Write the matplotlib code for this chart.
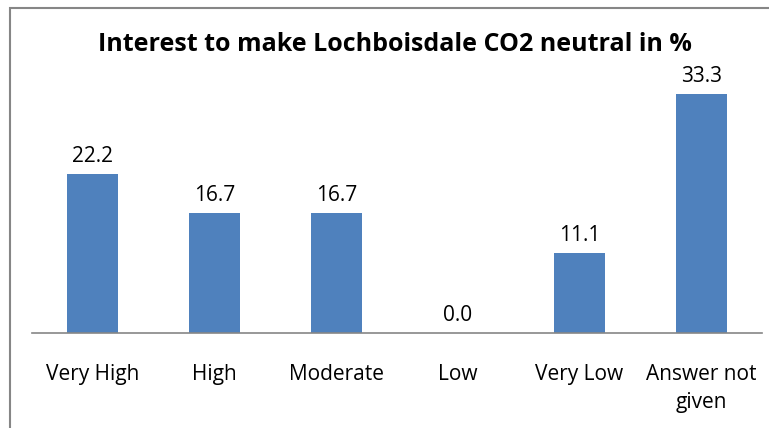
import matplotlib.pyplot as plt
from matplotlib.patches import Rectangle

categories = ['Very High', 'High', 'Moderate', 'Low', 'Very Low', 'Answer not\ngiven']
values = [22.2, 16.7, 16.7, 0.0, 11.1, 33.3]

plt.rcParams['font.family'] = ['Open Sans', 'DejaVu Sans']

fig = plt.figure(figsize=(7.69, 4.28), dpi=100)
ax = fig.add_axes([0.0416, 0.222, 0.9494, 0.67])

x = range(len(categories))
ax.bar(x, values, width=0.42, color='#4f81bd')
for i, v in zip(x, values):
    ax.text(i, v + 1.0, f'{v:.1f}', ha='center', va='bottom', fontsize=15)

ax.set_xlim(-0.5, len(categories) - 0.5)
ax.set_ylim(0, 40)
ax.set_xticks(list(x))
ax.set_xticklabels(categories, fontsize=15, linespacing=1.45)
ax.tick_params(axis='x', length=0, pad=22)
ax.set_yticks([])
for s in ['top', 'right', 'left']:
    ax.spines[s].set_visible(False)
ax.spines['bottom'].set_color('#868686')
ax.spines['bottom'].set_linewidth(1.2)

fig.text(0.514, 0.895, 'Interest to make Lochboisdale CO2 neutral in %',
         ha='center', va='center', fontsize=18, fontweight='bold')

fig.patches.append(Rectangle((10 / 769, -0.1), 1.2, 1 - 8 / 428 + 0.1,
                             transform=fig.transFigure, fill=False,
                             edgecolor='#868686', linewidth=1.5))

fig.savefig('out.png', dpi=100)
